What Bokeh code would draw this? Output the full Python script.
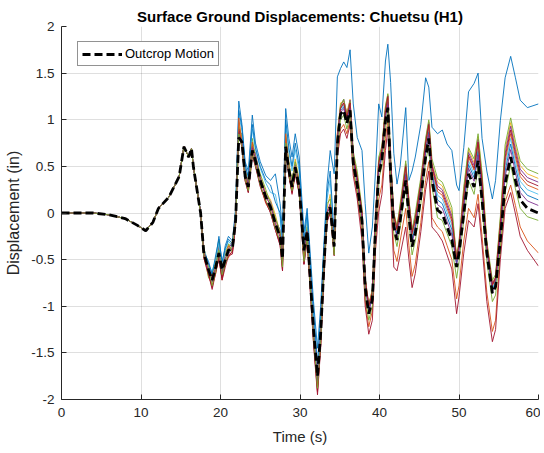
from bokeh.plotting import figure
from bokeh.models import FixedTicker, Legend, LegendItem
from bokeh.embed import file_html
from bokeh.resources import INLINE

# ---------------- data ----------------
T_EARLY = [0, 2, 4, 6, 8, 9.5, 10.6, 11.5, 12.2, 13.5, 14.8, 15.4, 16.0, 16.35, 16.6]
T_LATE = [17.5, 17.9, 18.5, 18.95, 19.4, 19.8, 20.2, 20.6, 21.0, 21.5,
          21.9, 22.3, 22.7, 23.1, 23.5, 24.0, 24.4, 25.0, 25.7, 26.3,
          26.9, 27.5, 27.8, 28.2, 28.6, 29.0, 29.4, 29.9, 30.5, 30.9,
          31.3, 31.7, 32.2, 32.6, 33.0, 33.4, 33.8, 34.3, 34.7, 35.1,
          35.5, 35.9, 36.3, 36.7, 37.2, 37.8, 38.2, 38.65, 39.1, 39.5,
          39.9, 40.3, 40.75, 41.05, 41.4, 41.8, 42.2, 42.6, 43.3, 43.7,
          44.1, 44.5, 45.2, 45.8, 46.2, 46.6, 47.3, 47.9, 48.5, 49.1,
          49.7, 50.0, 50.6, 51.2, 51.9, 52.4, 52.9, 53.5, 54.2, 54.6,
          55.2, 55.8, 56.5, 57.1, 57.7, 58.6, 60]

# shared early part (all surface records coincide with the outcrop before ~17 s)
EARLY_DISP = [0, 0, 0, -0.02, -0.06, -0.13, -0.19, -0.1, 0.05, 0.17, 0.39, 0.71, 0.6, 0.69, 0.49]

OUTCROP_LATE = [0.00, -0.43, -0.61, -0.72, -0.58, -0.43, -0.61, -0.50, -0.40, -0.38,
                -0.08, 0.81, 0.76, 0.39, 0.28, 0.67, 0.56, 0.35, 0.17, 0.06,
                -0.11, -0.26, -0.49, 0.71, 0.46, 0.28, 0.49, 0.28, -0.40, -0.19,
                -0.72, -1.25, -1.75, -1.29, -0.58, -0.01, 0.06, -0.36, 0.74, 1.06,
                1.10, 0.96, 1.10, 0.53, 0.30, -0.08, -0.80, -1.08, -0.93, -0.15,
                0.42, 0.56, 0.99, 1.13, 0.42, -0.15, -0.29, -0.08, 0.35, -0.04,
                -0.36, -0.22, 0.17, 0.60, 0.80, 0.35, 0.03, -0.01, -0.15, -0.29,
                -0.58, -0.43, -0.01, 0.42, 0.28, 0.56, 0.14, -0.43, -0.86, -0.79,
                -0.29, 0.31, 0.60, 0.35, 0.14, 0.05, 0.00]

SURF_BLUE_HIGH = [0.02, -0.38, -0.55, -0.65, -0.50, -0.25, -0.55, -0.35, -0.25, -0.30,
                  0.05, 1.20, 0.95, 0.55, 0.45, 1.05, 0.75, 0.55, 0.40, 0.35,
                  0.42, 0.10, -0.20, 1.12, 0.80, 0.60, 0.85, 0.60, -0.20, 0.05,
                  -0.45, -0.95, -1.45, -1.00, -0.35, 0.30, 0.67, 0.42, 1.46, 1.55,
                  1.62, 1.56, 1.75, 1.17, 0.81, 0.67, 0.10, -0.43, -0.15, 0.45,
                  1.17, 1.03, 1.63, 1.81, 1.40, 0.64, 0.31, 0.50, 1.13, 0.35,
                  0.45, 0.60, 0.95, 1.45, 1.35, 0.92, 0.85, 0.89, 0.74, 0.67,
                  0.30, 0.24, 0.70, 1.30, 1.39, 1.50, 0.80, 0.45, 0.15, 0.35,
                  0.99, 1.45, 1.68, 1.45, 1.21, 1.13, 1.17]

SURF_ORANGE_LOW = [0.00, -0.48, -0.68, -0.78, -0.65, -0.46, -0.72, -0.52, -0.48, -0.40,
                   -0.05, 0.95, 0.72, 0.40, 0.25, 0.70, 0.52, 0.30, 0.10, 0.02,
                   -0.15, -0.32, -0.58, 0.78, 0.42, 0.22, 0.45, 0.22, -0.50, -0.25,
                   -0.80, -1.35, -1.90, -1.40, -0.65, -0.05, 0.02, -0.42, 0.65, 0.90,
                   0.95, 0.85, 1.00, 0.45, 0.20, -0.20, -0.95, -1.22, -1.05, -0.30,
                   0.15, 0.30, 0.80, 1.00, 0.30, -0.40, -0.52, -0.30, 0.05, -0.35,
                   -0.68, -0.55, -0.10, 0.35, 0.55, -0.05, -0.15, -0.20, -0.35, -0.50,
                   -0.92, -0.78, -0.30, 0.05, -0.05, 0.20, -0.25, -0.85, -1.27, -1.15,
                   -0.40, 0.12, 0.30, 0.08, -0.15, -0.30, -0.43]

SURF_RED_LOW = [0.00, -0.45, -0.65, -0.80, -0.62, -0.50, -0.70, -0.55, -0.45, -0.42,
                -0.12, 0.90, 0.70, 0.35, 0.22, 0.62, 0.50, 0.28, 0.12, 0.00,
                -0.18, -0.35, -0.62, 0.65, 0.40, 0.20, 0.42, 0.20, -0.55, -0.30,
                -0.85, -1.40, -1.95, -1.45, -0.70, -0.10, 0.00, -0.45, 0.60, 0.85,
                0.90, 0.80, 0.95, 0.40, 0.15, -0.30, -1.00, -1.30, -1.15, -0.40,
                0.01, 0.20, 0.67, 0.90, 0.20, -0.58, -0.62, -0.45, -0.15, -0.50,
                -0.80, -0.65, -0.20, 0.25, 0.45, -0.15, -0.22, -0.30, -0.45, -0.60,
                -1.08, -0.90, -0.43, -0.08, -0.15, 0.10, -0.35, -0.95, -1.38, -1.25,
                -0.50, 0.05, 0.22, -0.01, -0.25, -0.40, -0.57]

SURF_GREEN_A = [0.00, -0.40, -0.70, -0.66, -0.52, -0.30, -0.68, -0.45, -0.33, -0.42,
                0.00, 0.92, 0.82, 0.46, 0.32, 0.80, 0.60, 0.42, 0.25, 0.10,
                -0.05, -0.20, -0.55, 0.82, 0.52, 0.35, 0.55, 0.34, -0.48, -0.15,
                -0.78, -1.30, -1.85, -1.35, -0.50, 0.10, 0.15, -0.42, 0.85, 1.15,
                1.22, 1.05, 1.20, 0.66, 0.45, 0.05, -0.70, -1.00, -0.82, -0.05,
                0.60, 0.72, 1.15, 1.28, 0.60, 0.00, -0.15, 0.10, 0.56, 0.15,
                -0.18, 0.00, 0.38, 0.80, 1.00, 0.58, 0.37, 0.33, 0.20, 0.06,
                -0.48, -0.30, 0.28, 0.70, 0.58, 0.85, 0.43, -0.30, -0.72, -0.66,
                -0.04, 0.73, 1.02, 0.77, 0.56, 0.47, 0.42]

SURF_YELLOW_A = [0.00, -0.36, -0.64, -0.70, -0.48, -0.38, -0.58, -0.40, -0.36, -0.30,
                 -0.02, 0.98, 0.78, 0.42, 0.35, 0.74, 0.62, 0.40, 0.22, 0.14,
                 -0.02, -0.22, -0.45, 0.88, 0.55, 0.32, 0.58, 0.36, -0.45, -0.12,
                 -0.70, -1.22, -1.80, -1.25, -0.52, 0.05, 0.20, -0.38, 0.86, 1.18,
                 1.20, 1.08, 1.22, 0.63, 0.40, 0.03, -0.70, -0.98, -0.82, -0.05,
                 0.57, 0.70, 1.14, 1.27, 0.57, 0.00, -0.14, 0.07, 0.53, 0.14,
                 -0.18, -0.04, 0.35, 0.78, 0.98, 0.53, 0.33, 0.29, 0.15, 0.01,
                 -0.47, -0.32, 0.25, 0.68, 0.54, 0.82, 0.40, -0.32, -0.75, -0.68,
                 -0.07, 0.68, 0.97, 0.72, 0.51, 0.42, 0.37]

SURF_PURPLE_A = [0.00, -0.44, -0.56, -0.74, -0.55, -0.35, -0.64, -0.42, -0.38, -0.32,
                 -0.04, 0.88, 0.85, 0.48, 0.30, 0.72, 0.64, 0.38, 0.20, 0.12,
                 -0.08, -0.18, -0.52, 0.80, 0.50, 0.30, 0.52, 0.32, -0.42, -0.18,
                 -0.74, -1.28, -1.82, -1.30, -0.55, 0.02, 0.10, -0.40, 0.84, 1.14,
                 1.22, 1.05, 1.21, 0.62, 0.40, 0.02, -0.70, -0.98, -0.84, -0.06,
                 0.55, 0.69, 1.12, 1.26, 0.55, -0.02, -0.16, 0.05, 0.52, 0.13,
                 -0.19, -0.05, 0.34, 0.77, 0.97, 0.52, 0.29, 0.25, 0.11, -0.03,
                 -0.48, -0.33, 0.22, 0.65, 0.51, 0.79, 0.37, -0.33, -0.76, -0.69,
                 -0.09, 0.64, 0.93, 0.68, 0.47, 0.38, 0.33]

SURF_RED_A = [0.00, -0.48, -0.66, -0.82, -0.64, -0.48, -0.72, -0.58, -0.46, -0.44,
              -0.14, 0.86, 0.70, 0.34, 0.22, 0.62, 0.50, 0.30, 0.12, 0.00,
              -0.18, -0.34, -0.62, 0.68, 0.40, 0.22, 0.42, 0.22, -0.55, -0.28,
              -0.84, -1.38, -1.92, -1.42, -0.66, -0.08, 0.00, -0.46, 0.80, 1.12,
              1.18, 1.02, 1.18, 0.60, 0.38, 0.00, -0.72, -1.00, -0.85, -0.07,
              0.54, 0.68, 1.10, 1.25, 0.54, -0.03, -0.17, 0.04, 0.50, 0.11,
              -0.21, -0.07, 0.32, 0.75, 0.95, 0.50, 0.26, 0.22, 0.08, -0.06,
              -0.49, -0.34, 0.19, 0.62, 0.48, 0.76, 0.34, -0.34, -0.77, -0.70,
              -0.12, 0.60, 0.89, 0.64, 0.43, 0.34, 0.29]

SURF_ORANGE_A = [0.00, -0.40, -0.62, -0.68, -0.60, -0.45, -0.56, -0.52, -0.35, -0.40,
                 -0.06, 1.02, 0.74, 0.40, 0.26, 0.76, 0.54, 0.36, 0.18, 0.08,
                 -0.10, -0.24, -0.50, 0.85, 0.48, 0.26, 0.50, 0.30, -0.46, -0.20,
                 -0.76, -1.30, -1.86, -1.32, -0.60, 0.00, 0.08, -0.40, 0.82, 1.13,
                 1.18, 1.04, 1.18, 0.61, 0.38, 0.00, -0.72, -1.00, -0.85, -0.07,
                 0.52, 0.66, 1.09, 1.23, 0.52, -0.05, -0.19, 0.02, 0.48, 0.09,
                 -0.23, -0.09, 0.30, 0.73, 0.93, 0.48, 0.23, 0.19, 0.05, -0.09,
                 -0.50, -0.35, 0.17, 0.60, 0.46, 0.74, 0.32, -0.35, -0.78, -0.71,
                 -0.14, 0.56, 0.85, 0.60, 0.39, 0.30, 0.25]

SURF_LIGHTBLUE_A = [0.00, -0.38, -0.58, -0.62, -0.50, -0.32, -0.60, -0.40, -0.30, -0.36,
                    0.02, 1.05, 0.88, 0.50, 0.40, 0.90, 0.68, 0.48, 0.32, 0.22,
                    0.20, -0.05, -0.35, 0.95, 0.65, 0.45, 0.68, 0.45, -0.32, -0.05,
                    -0.60, -1.12, -1.70, -1.15, -0.45, 0.15, 0.35, -0.30, 0.80, 1.12,
                    1.16, 1.02, 1.16, 0.59, 0.36, -0.02, -0.74, -1.02, -0.87, -0.09,
                    0.50, 0.64, 1.07, 1.21, 0.50, -0.07, -0.21, 0.00, 0.45, 0.06,
                    -0.26, -0.12, 0.27, 0.70, 0.90, 0.45, 0.19, 0.15, 0.01, -0.13,
                    -0.52, -0.37, 0.13, 0.56, 0.42, 0.70, 0.28, -0.37, -0.80, -0.73,
                    -0.17, 0.51, 0.80, 0.55, 0.34, 0.25, 0.20]

SURF_BLUE_A = [0.00, -0.42, -0.52, -0.66, -0.45, -0.28, -0.52, -0.38, -0.28, -0.33,
               0.00, 1.10, 0.92, 0.52, 0.38, 0.95, 0.70, 0.50, 0.35, 0.30,
               0.12, 0.00, -0.30, 1.00, 0.70, 0.50, 0.75, 0.50, -0.28, 0.00,
               -0.55, -1.05, -1.62, -1.10, -0.40, 0.22, 0.45, -0.25, 0.78, 1.10,
               1.14, 1.00, 1.14, 0.57, 0.34, -0.04, -0.76, -1.04, -0.89, -0.11,
               0.48, 0.62, 1.05, 1.19, 0.48, -0.09, -0.23, -0.02, 0.42, 0.03,
               -0.29, -0.15, 0.24, 0.67, 0.87, 0.42, 0.14, 0.10, -0.04, -0.18,
               -0.54, -0.39, 0.09, 0.52, 0.38, 0.66, 0.24, -0.39, -0.82, -0.75,
               -0.21, 0.45, 0.74, 0.49, 0.28, 0.19, 0.14]

SURF_PURPLE_B = [0.00, -0.45, -0.64, -0.70, -0.60, -0.42, -0.64, -0.48, -0.44, -0.37,
                 -0.06, 0.84, 0.78, 0.42, 0.30, 0.70, 0.58, 0.36, 0.18, 0.08,
                 -0.12, -0.26, -0.50, 0.74, 0.48, 0.28, 0.50, 0.30, -0.42, -0.20,
                 -0.74, -1.27, -1.80, -1.32, -0.60, 0.00, 0.06, -0.38, 0.76, 1.08,
                 1.12, 0.98, 1.12, 0.55, 0.32, -0.06, -0.78, -1.06, -0.91, -0.13,
                 0.45, 0.59, 1.02, 1.16, 0.45, -0.12, -0.26, -0.05, 0.39, 0.00,
                 -0.32, -0.18, 0.21, 0.64, 0.84, 0.39, 0.09, 0.05, -0.09, -0.23,
                 -0.56, -0.41, 0.05, 0.48, 0.34, 0.62, 0.20, -0.41, -0.84, -0.77,
                 -0.24, 0.39, 0.68, 0.43, 0.22, 0.13, 0.08]

SURF_GREEN_B = [0.00, -0.46, -0.58, -0.78, -0.62, -0.40, -0.66, -0.55, -0.42, -0.35,
                -0.10, 0.85, 0.72, 0.36, 0.24, 0.64, 0.52, 0.30, 0.14, 0.02,
                -0.16, -0.30, -0.58, 0.75, 0.42, 0.24, 0.45, 0.24, -0.52, -0.25,
                -0.80, -1.32, -1.88, -1.38, -0.62, -0.05, 0.02, -0.45, 0.68, 1.00,
                1.05, 0.90, 1.05, 0.48, 0.25, -0.15, -0.88, -1.15, -1.00, -0.22,
                0.36, 0.50, 0.95, 1.10, 0.36, -0.22, -0.36, -0.15, 0.30, -0.10,
                -0.45, -0.30, 0.10, 0.55, 0.72, 0.28, -0.05, -0.08, -0.22, -0.36,
                -0.70, -0.52, -0.08, 0.35, 0.20, 0.50, 0.06, -0.52, -0.95, -0.88,
                -0.38, 0.22, 0.52, 0.26, 0.05, -0.04, -0.08]

SURFACE_SERIES = [
    (SURF_BLUE_HIGH, "#0072BD"),
    (SURF_ORANGE_LOW, "#D95319"),
    (SURF_YELLOW_A, "#EDB120"),
    (SURF_PURPLE_A, "#7E2F8E"),
    (SURF_GREEN_A, "#77AC30"),
    (SURF_LIGHTBLUE_A, "#4DBEEE"),
    (SURF_RED_LOW, "#A2142F"),
    (SURF_BLUE_A, "#0072BD"),
    (SURF_ORANGE_A, "#D95319"),
    (SURF_RED_A, "#A2142F"),
    (SURF_PURPLE_B, "#7E2F8E"),
    (SURF_GREEN_B, "#77AC30"),
]

X_TICKS = [0, 10, 20, 30, 40, 50, 60]
Y_TICKS = [-2, -1.5, -1, -0.5, 0, 0.5, 1, 1.5, 2]
Y_TICK_LABELS = ["-2", "-1.5", "-1", "-0.5", "0", "0.5", "1", "1.5", "2"]

TITLE = "Surface Ground Displacements: Chuetsu (H1)"
X_LABEL = "Time (s)"
Y_LABEL = "Displacement (in)"
LEGEND_LABEL = "Outcrop Motion"

# ---------------- figure ----------------
FONT = "Liberation Sans"
TXT = "#262626"

time = T_EARLY + T_LATE
p = figure(frame_width=477, frame_height=373,
           x_range=(0, 60), y_range=(-2, 2),
           output_backend="svg", toolbar_location=None,
           min_border_left=61, min_border_right=2,
           min_border_top=26, min_border_bottom=48,
           title=TITLE)
p.outline_line_color = None
p.background_fill_color = "white"
p.border_fill_color = "white"

p.title.text_font = FONT
p.title.text_font_size = "15px"
p.title.text_font_style = "bold"
p.title.text_color = "black"
p.title.align = "center"
p.title.standoff = 4

for ax in (p.xaxis[0], p.yaxis[0]):
    ax.axis_line_color = TXT
    ax.axis_line_width = 1
    ax.major_tick_line_color = TXT
    ax.major_tick_in = 5
    ax.major_tick_out = 0
    ax.minor_tick_in = 0
    ax.minor_tick_out = 0
    ax.major_label_text_font = FONT
    ax.major_label_text_font_size = "13.5px"
    ax.major_label_text_color = TXT
    ax.axis_label_text_font = FONT
    ax.axis_label_text_font_style = "normal"
    ax.axis_label_text_color = TXT

p.xaxis.axis_label_text_font_size = "15px"
p.yaxis.axis_label_text_font_size = "16px"
p.xaxis.ticker = FixedTicker(ticks=X_TICKS)
p.yaxis.ticker = FixedTicker(ticks=Y_TICKS)
p.yaxis.major_label_overrides = {v: s for v, s in zip(Y_TICKS, Y_TICK_LABELS)}
p.xaxis.axis_label = X_LABEL
p.yaxis.axis_label = Y_LABEL
p.xaxis.major_label_standoff = 8
p.xaxis.axis_label_standoff = 8
p.yaxis.major_label_standoff = 7
p.yaxis.axis_label_standoff = 6

for g in (p.xgrid[0], p.ygrid[0]):
    g.grid_line_color = TXT
    g.grid_line_alpha = 0.15
    g.grid_line_width = 1

for vals, col in SURFACE_SERIES:
    p.line(time, EARLY_DISP + vals, line_color=col, line_width=0.9)

out_r = p.line(time, EARLY_DISP + OUTCROP_LATE, line_color="black",
               line_width=2.8, line_dash="8 4")

legend = Legend(items=[LegendItem(label=LEGEND_LABEL, renderers=[out_r])],
                location=(16, 333))
legend.border_line_color = TXT
legend.border_line_width = 1
legend.background_fill_color = "white"
legend.background_fill_alpha = 1
legend.label_text_font = FONT
legend.label_text_font_size = "13px"
legend.label_text_color = "black"
legend.glyph_width = 40
legend.glyph_height = 14
legend.padding = 4
legend.margin = 0
legend.spacing = 0
legend.label_standoff = 3
p.add_layout(legend)

open("out.html", "w").write(file_html(p, INLINE))
